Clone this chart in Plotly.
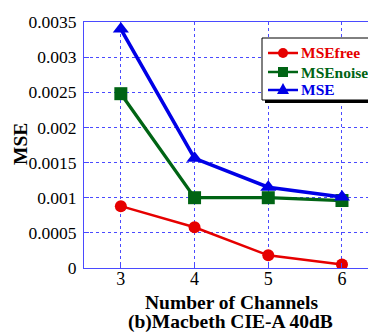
import plotly.graph_objects as go

# Number of channels on the x axis
channels = [3, 4, 5, 6]

# Mean squared error series
mse_free = [0.00088, 0.00058, 0.00018, 0.00005]
mse_noise = [0.00248, 0.00100, 0.00100, 0.00096]
mse_total = [0.00340, 0.00156, 0.00115, 0.00101]

y_tick_vals = [0, 0.0005, 0.001, 0.0015, 0.002, 0.0025, 0.003, 0.0035]
y_tick_text = ["0", "0.0005", "0.001", "0.0015", "0.002", "0.0025", "0.003", "0.0035"]

RED = "#e60000"
GREEN = "#006414"
BLUE = "#0000e6"
AXIS_BLUE = "#4a4aff"
SERIF = "Liberation Serif"

W, H = 368, 332
ML, MT, MB = 84, 22, 64
PW, PH = W - ML, H - MT - MB


def px(x):
    """pixel column -> paper x"""
    return (x - ML) / PW


def py(y):
    """pixel row -> paper y"""
    return (H - MB - y) / PH


fig = go.Figure()

series = [
    ("MSEfree", mse_free, RED, "circle", 2.5, 12),
    ("MSEnoise", mse_noise, GREEN, "square", 3.3, 13),
    ("MSE", mse_total, BLUE, "triangle-up", 3.6, 14),
]
for name, vals, color, symbol, lw, ms in series:
    fig.add_trace(go.Scatter(
        x=channels, y=vals, mode="lines+markers", name=name,
        line=dict(color=color, width=lw),
        marker=dict(color=color, symbol=symbol, size=ms),
        showlegend=False,
    ))

# ---- hand-drawn legend box with drop shadow ----
shapes = []
annotations = []
box_l, box_t, box_b, box_r = 262, 38, 100, 380
shapes.append(dict(type="rect", xref="paper", yref="paper",
                   x0=px(box_l + 3), x1=px(box_r + 3), y0=py(box_b + 3), y1=py(box_t + 3),
                   fillcolor="black", line=dict(width=0), layer="above"))
shapes.append(dict(type="rect", xref="paper", yref="paper",
                   x0=px(box_l), x1=px(box_r), y0=py(box_b), y1=py(box_t),
                   fillcolor="white", line=dict(color="black", width=1), layer="above"))
row_y = [53, 72, 90]
for (name, vals, color, symbol, lw, ms), ry in zip(series, row_y):
    shapes.append(dict(type="line", xref="paper", yref="paper",
                       x0=px(268), x1=px(298), y0=py(ry), y1=py(ry),
                       line=dict(color=color, width=2.5), layer="above"))
    cx, r = 283, 5
    if symbol == "circle":
        shapes.append(dict(type="circle", xref="paper", yref="paper",
                           x0=px(cx - r), x1=px(cx + r), y0=py(ry + r), y1=py(ry - r),
                           fillcolor=color, line=dict(color=color, width=0), layer="above"))
    elif symbol == "square":
        shapes.append(dict(type="rect", xref="paper", yref="paper",
                           x0=px(cx - r), x1=px(cx + r), y0=py(ry + r), y1=py(ry - r),
                           fillcolor=color, line=dict(color=color, width=0), layer="above"))
    else:
        path = (f"M {px(cx - 6)},{py(ry + 4)} L {px(cx + 6)},{py(ry + 4)} "
                f"L {px(cx)},{py(ry - 7)} Z")
        shapes.append(dict(type="path", xref="paper", yref="paper", path=path,
                           fillcolor=color, line=dict(color=color, width=0), layer="above"))
    annotations.append(dict(text=f"<b>{name}</b>", xref="paper", yref="paper",
                            x=px(299), y=py(ry), xanchor="left", yanchor="middle",
                            showarrow=False, font=dict(family=SERIF, size=15.5, color=color)))

# axis titles
annotations += [
    dict(text="<b>Number of Channels</b>", xref="paper", yref="paper",
         x=px(231), y=py(302), showarrow=False,
         xanchor="center", yanchor="middle", font=dict(family=SERIF, size=19.5)),
    dict(text="<b>(b)Macbeth CIE-A 40dB</b>", xref="paper", yref="paper",
         x=px(230), y=py(322), showarrow=False,
         xanchor="center", yanchor="middle", font=dict(family=SERIF, size=19.5)),
    dict(text="<b>MSE</b>", xref="paper", yref="paper",
         x=px(20), y=py(144), showarrow=False,
         textangle=-90, xanchor="center", yanchor="middle",
         font=dict(family=SERIF, size=19.5)),
]

fig.update_layout(
    width=W, height=H,
    margin=dict(l=ML, r=0, t=MT, b=MB),
    paper_bgcolor="white", plot_bgcolor="white",
    font=dict(family=SERIF, size=17.5, color="black"),
    showlegend=False,
    xaxis=dict(
        range=[2.5, 6.353], tickvals=channels, ticktext=[str(c) for c in channels],
        showline=True, linecolor=AXIS_BLUE, linewidth=1, mirror=True,
        showgrid=True, gridcolor=AXIS_BLUE, griddash="dot", gridwidth=1,
        ticks="inside", ticklen=5, tickcolor=AXIS_BLUE,
        zeroline=False, tickfont=dict(family=SERIF, size=18), ticklabelstandoff=-6,
    ),
    yaxis=dict(
        range=[0, 0.0035], tickvals=y_tick_vals, ticktext=y_tick_text,
        showline=True, linecolor=AXIS_BLUE, linewidth=1, mirror=False,
        showgrid=True, gridcolor=AXIS_BLUE, griddash="dot", gridwidth=1,
        ticks="inside", ticklen=5, tickcolor=AXIS_BLUE,
        zeroline=False, tickfont=dict(family=SERIF, size=17.5), ticklabelstandoff=3,
    ),
    shapes=shapes,
    annotations=annotations,
)

fig.write_html("out.html")
